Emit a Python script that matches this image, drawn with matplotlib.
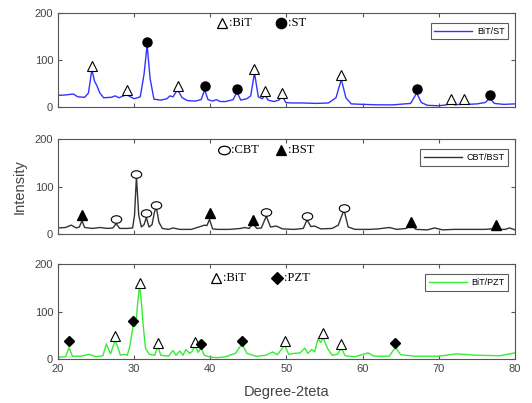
import matplotlib
matplotlib.use("Agg")
import matplotlib.pyplot as plt
from matplotlib.path import Path
from matplotlib.transforms import Affine2D

# BiT/ST pattern (blue)
st_x = [20, 21, 22, 22.6, 23.5, 24.0, 24.45, 24.8, 25.1, 25.5,
        26, 27, 27.5, 28, 28.6, 29.0, 29.5, 30, 30.8, 31.3,
        31.7, 32.1, 32.6, 33.5, 34.3, 34.7, 35.1, 35.7, 36.3, 37,
        38, 38.8, 39.25, 39.7, 40.3, 40.8, 41.3, 42, 43.0, 43.5,
        44.0, 44.8, 45.3, 45.8, 46.3, 46.8, 47.2, 47.6, 48.3, 49.0,
        49.45, 49.9, 50.5, 52, 54, 55.5, 56.5, 57.2, 57.8, 58.5,
        60, 62, 64, 66.3, 67.1, 67.7, 68.5, 70, 71.0, 71.55,
        72.1, 72.8, 73.26, 73.8, 75, 76.1, 76.7, 77.3, 78.5, 80]
st_y = [25, 26, 28, 22, 21, 30, 80, 55, 46, 30,
        20, 21, 24, 20, 24, 27, 22, 18, 22, 70,
        132, 60, 17, 15, 18, 24, 22, 37, 20, 14,
        13, 16, 37, 16, 13, 16, 12, 12, 16, 32,
        15, 18, 24, 73, 22, 18, 25, 15, 12, 15,
        24, 10, 9, 9, 8, 9, 20, 59, 20, 7,
        6, 5, 5, 8, 30, 10, 4, 3, 5, 10,
        5, 6, 10, 6, 7, 10, 19, 8, 6, 7]
st_bit_pos = [24.45, 29.0, 35.7, 45.8, 47.2, 49.45, 57.2, 71.55, 73.26]
st_bit_h = [88, 37, 46, 82, 34, 31, 68, 18, 18]
st_st_pos = [31.7, 39.25, 43.5, 67.1, 76.7]
st_st_h = [139, 44, 39, 39, 25]

# CBT/BST pattern (dark grey)
bst_x = [20, 21, 21.75, 22.4, 22.8, 23.15, 23.5, 24.5, 25.5, 26.5,
         27.2, 27.65, 28.1, 29, 29.8, 30.05, 30.3, 30.6, 30.95, 31.3,
         31.6, 31.95, 32.35, 32.65, 32.9, 33.25, 33.7, 34.5, 35.1, 36,
         37.5, 38.5, 39.25, 39.55, 39.9, 40.3, 41, 42.5, 44, 44.5,
         45.1, 45.6, 46.1, 46.7, 47.35, 47.9, 48.65, 49.5, 51, 52.2,
         52.7, 53.2, 53.7, 54.5, 56, 56.8, 57.55, 58.1, 59, 61,
         62, 63.5, 64.5, 65.7, 66.4, 67, 68.5, 69.45, 70.5, 72,
         74, 76, 77.0, 77.55, 78.1, 78.7, 79.3, 80]
bst_y = [13, 14, 19, 13, 15, 28, 14, 12, 14, 12,
         13, 22, 12, 12, 13, 40, 121, 40, 15, 20,
         35, 15, 20, 45, 58, 25, 12, 10, 13, 10,
         10, 15, 19, 18, 31, 11, 10, 10, 12, 14,
         12, 22, 12, 13, 38, 15, 17, 11, 10, 12,
         30, 16, 17, 11, 12, 19, 51, 15, 10, 10,
         11, 14, 10, 12, 19, 10, 9, 13, 9, 10,
         10, 10, 11, 15, 10, 10, 13, 9]
bst_cbt_pos = [27.65, 30.3, 31.6, 32.9, 47.35, 52.7, 57.55]
bst_cbt_h = [32, 126, 44, 61, 47, 38, 56]
bst_bst_pos = [23.15, 39.9, 45.6, 66.4, 77.55]
bst_bst_h = [41, 45, 30, 26, 19]

# BiT/PZT pattern (green)
pzt_x = [20, 21, 21.45, 21.9, 23, 24.1, 25, 25.9, 26.35, 26.9,
         27.2, 27.5, 27.85, 28.2, 28.75, 29.1, 29.4, 29.85, 30.2, 30.45,
         30.72, 31.0, 31.2, 31.5, 32.0, 32.7, 33.1, 33.5, 34.5, 35.1,
         35.5, 36.0, 36.4, 36.8, 37.3, 37.6, 38.0, 38.4, 38.8, 39.2,
         40, 41, 42, 43.3, 44.15, 44.8, 46, 47.3, 48.2, 48.8,
         49.75, 50.3, 51, 51.8, 52.4, 52.8, 53.3, 53.7, 54.15, 54.5,
         54.8, 55.4, 56.0, 56.7, 57.2, 57.7, 59, 60.7, 61.5, 63.5,
         64.3, 65, 67, 70, 72.3, 75, 78, 80]
pzt_y = [4, 5, 24, 6, 6, 10, 5, 7, 32, 11,
         25, 39, 25, 8, 10, 8, 25, 68, 70, 115,
         156, 110, 68, 22, 10, 8, 27, 8, 6, 18,
         8, 17, 8, 20, 12, 16, 29, 14, 24, 8,
         4, 3, 5, 12, 32, 12, 6, 8, 15, 9,
         29, 10, 12, 13, 23, 12, 20, 15, 43, 35,
         45, 22, 8, 10, 23, 7, 5, 13, 6, 6,
         25, 9, 6, 6, 11, 8, 7, 13]
pzt_bit_pos = [27.5, 30.72, 33.1, 38.0, 49.75, 54.8, 57.2]
pzt_bit_h = [49, 160, 34, 36, 37, 55, 32]
pzt_pzt_pos = [21.45, 29.85, 38.8, 44.15, 64.3]
pzt_pzt_h = [37, 81, 31, 39, 34]

# flattened circle, like the CBT marks
ellipse = Path.unit_circle().transformed(Affine2D().scale(1, 0.72))

fig = plt.figure(figsize=(5.32, 4.03), dpi=100)
left, width = 0.109, 0.859
ax1 = fig.add_axes([left, 0.734, width, 0.234])
ax2 = fig.add_axes([left, 0.419, width, 0.236])
ax3 = fig.add_axes([left, 0.109, width, 0.236])

serif = ["Liberation Serif", "DejaVu Serif"]
sans = ["Liberation Sans", "DejaVu Sans"]


def style(ax):
    ax.set_xlim(20, 80)
    ax.set_ylim(0, 200)
    ax.set_yticks([0, 100, 200])
    ax.set_xticks([20, 30, 40, 50, 60, 70, 80])
    ax.tick_params(direction="in", top=True, right=True, length=3,
                   labelsize=8, labelcolor="#444444", color="#555555")
    for s in ax.spines.values():
        s.set_color("#555555")
        s.set_linewidth(0.8)
    for lab in ax.get_xticklabels() + ax.get_yticklabels():
        lab.set_family(sans)


def header(ax, x1, m1, fill1, t1, x2, m2, fill2, t2, y, ms1=7.5, ms2=7.5):
    ax.plot([x1], [y], marker=m1, ms=ms1, mfc=fill1, mec="black", mew=0.9,
            transform=ax.transAxes, clip_on=False)
    ax.text(x1 + 0.015, y, t1, transform=ax.transAxes, va="center",
            ha="left", fontsize=9, family=serif)
    ax.plot([x2], [y], marker=m2, ms=ms2, mfc=fill2, mec="black", mew=0.9,
            transform=ax.transAxes, clip_on=False)
    ax.text(x2 + 0.015, y, t2, transform=ax.transAxes, va="center",
            ha="left", fontsize=9, family=serif)


def legend(ax, y):
    lg = ax.legend(loc="upper right", bbox_to_anchor=(0.985, y),
                   handlelength=4.2, frameon=True, fancybox=False,
                   borderpad=0.4, handletextpad=0.5, borderaxespad=0,
                   prop={"family": sans, "size": 6.5})
    lg.get_frame().set_edgecolor("#333333")
    lg.get_frame().set_linewidth(0.8)


# top panel
ax1.plot(st_x, st_y, color="#3333ff", lw=1, label="BiT/ST")
ax1.plot(st_bit_pos, st_bit_h, ls="none", marker="^", ms=7, mfc="white",
         mec="black", mew=0.8)
ax1.plot(st_st_pos, st_st_h, ls="none", marker="o", ms=6.5, mfc="black",
         mec="black")
style(ax1)
ax1.tick_params(labelbottom=False)
header(ax1, 0.359, "^", "white", ":BiT", 0.488, "o", "black", ":ST", 0.89)
legend(ax1, 0.89)

# middle panel
ax2.plot(bst_x, bst_y, color="#333333", lw=1, label="CBT/BST")
ax2.plot(bst_cbt_pos, bst_cbt_h, ls="none", marker=ellipse, ms=7.5,
         mfc="white", mec="black", mew=0.8)
ax2.plot(bst_bst_pos, bst_bst_h, ls="none", marker="^", ms=7, mfc="black",
         mec="black")
style(ax2)
ax2.tick_params(labelbottom=False)
header(ax2, 0.364, ellipse, "white", ":CBT", 0.488, "^", "black", ":BST",
       0.88, ms1=8.5)
legend(ax2, 0.89)
ax2.set_ylabel("Intensity", fontsize=10.5, color="#444444", family=sans,
               labelpad=6)

# bottom panel
ax3.plot(pzt_x, pzt_y, color="#33ee33", lw=1, label="BiT/PZT")
ax3.plot(pzt_bit_pos, pzt_bit_h, ls="none", marker="^", ms=7, mfc="white",
         mec="black", mew=0.8)
ax3.plot(pzt_pzt_pos, pzt_pzt_h, ls="none", marker="D", ms=5, mfc="black",
         mec="black")
style(ax3)
header(ax3, 0.345, "^", "white", ":BiT", 0.479, "D", "black", ":PZT", 0.85,
       ms2=6)
legend(ax3, 0.89)
ax3.set_xlabel("Degree-2teta", fontsize=10.5, color="#444444", family=sans,
               labelpad=8)

fig.savefig("out.png", dpi=100)
